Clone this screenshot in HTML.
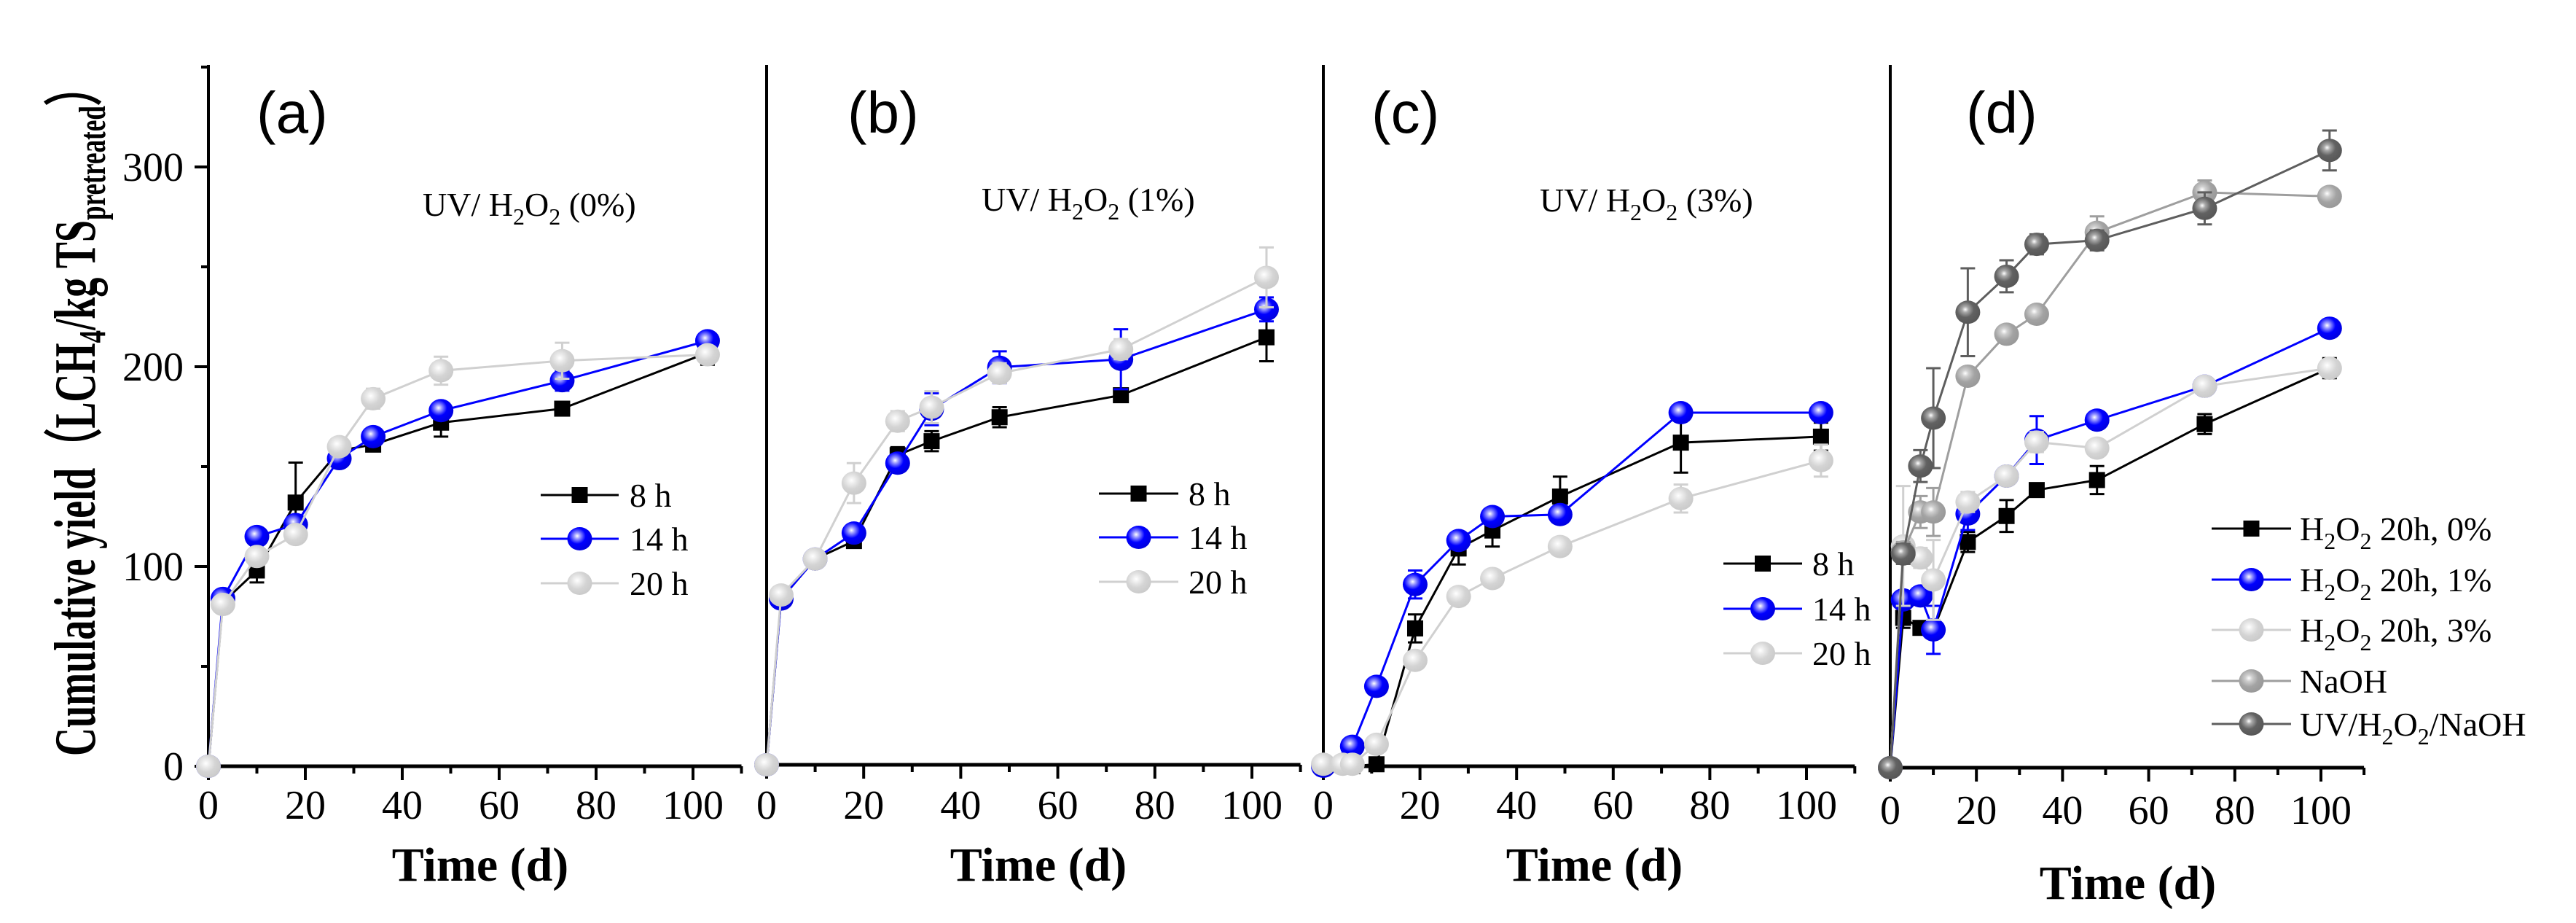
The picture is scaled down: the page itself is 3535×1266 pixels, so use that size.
<!DOCTYPE html>
<html><head><meta charset="utf-8"><title>Cumulative yield</title>
<style>html,body{margin:0;padding:0;background:#fff;}svg{display:block;}</style></head>
<body>
<svg id="chart" xmlns="http://www.w3.org/2000/svg" width="3535" height="1266" viewBox="0 0 3535 1266" font-family="'Liberation Serif', serif">
<defs>
<radialGradient id="g-blue" cx="40%" cy="38%" r="62%"><stop offset="0" stop-color="#ffffff"/><stop offset="0.2" stop-color="#9a9aff"/><stop offset="0.55" stop-color="#0000ff"/><stop offset="1" stop-color="#0000e0"/></radialGradient>
<radialGradient id="g-light" cx="40%" cy="38%" r="62%"><stop offset="0" stop-color="#ffffff"/><stop offset="0.25" stop-color="#ececec"/><stop offset="0.6" stop-color="#d4d4d4"/><stop offset="1" stop-color="#cbcbcb"/></radialGradient>
<radialGradient id="g-mid" cx="40%" cy="38%" r="62%"><stop offset="0" stop-color="#ffffff"/><stop offset="0.22" stop-color="#cfcfcf"/><stop offset="0.6" stop-color="#a3a3a3"/><stop offset="1" stop-color="#999"/></radialGradient>
<radialGradient id="g-dark" cx="40%" cy="38%" r="62%"><stop offset="0" stop-color="#ffffff"/><stop offset="0.2" stop-color="#aaaaaa"/><stop offset="0.55" stop-color="#626262"/><stop offset="1" stop-color="#575757"/></radialGradient>
</defs>
<text transform="translate(130,564) rotate(-90)" text-anchor="middle" font-size="80" font-weight="bold" textLength="946" lengthAdjust="spacingAndGlyphs">Cumulative yield（LCH<tspan font-size="52" dy="14">4</tspan><tspan dy="-14">/kg TS</tspan><tspan font-size="52" dy="14">pretreated</tspan><tspan dy="-14">）</tspan></text>
<g id="plots"></g>
</svg>
<script>
// ---------- data ----------
const daysA = [0, 3, 10, 18, 27, 34, 48, 73, 103];
const a8 = [0, 82, 98, 132, 158, 161, 172, 179, 207];
const a8err = [0, 3, 6, 20, 3, 3, 7, 3, 6];
const a14 = [0, 84, 115, 121, 154, 165, 178, 193, 213];
const a14err = [0, 2, 3, 3, 3, 3, 3, 5, 3];
const a20 = [0, 81, 105, 116, 160, 184, 198, 203, 206];
const a20err = [0, 2, 3, 3, 3, 5, 7, 9, 4];

const daysB = [0, 3, 10, 18, 27, 34, 48, 73, 103];
const b8 = [0, 83, 103, 112, 155, 162, 174, 185, 214];
const b8err = [0, 2, 3, 3, 4, 5, 5, 3, 12];
const b14 = [0, 83, 103, 116, 151, 178, 199, 203, 228];
const b14err = [0, 2, 3, 3, 4, 8, 8, 15, 6];
const b20 = [0, 85, 103, 141, 172, 179, 196, 208, 244];
const b20err = [0, 3, 3, 10, 5, 8, 5, 5, 15];

const daysC = [0, 6, 11, 19, 28, 35, 49, 74, 103];
const c8 = [0, 0, 1, 69, 109, 118, 135, 162, 165];
const c8err = [0, 0, 1, 7, 8, 8, 10, 15, 7];
const c14 = [0, 10, 40, 91, 113, 125, 126, 177, 177];
const c14err = [0, 1, 2, 7, 4, 4, 3, 4, 4];
const daysC20 = [0, 4, 6, 11, 19, 28, 35, 49, 74, 103];
const c20 = [1, 1, 1, 11, 53, 85, 94, 110, 134, 153];
const c20err = [0, 0, 0, 0, 2, 2, 2, 2, 7, 8];

const daysD = [0, 3, 7, 10, 18, 27, 34, 48, 73, 102];
const d0 = [0, 75, 70, 69, 113, 126, 139, 144, 172, 200];
const d0err = [0, 5, 3, 3, 5, 8, 3, 7, 5, 5];
const d1 = [0, 84, 86, 69, 127, 146, 164, 174, 191, 220];
const d1err = [0, 4, 4, 12, 8, 3, 12, 3, 2, 3];
const d3 = [0, 111, 105, 94, 133, 146, 163, 160, 191, 200];
const d3err = [0, 30, 5, 20, 5, 3, 5, 3, 3, 4];
const dNaOH = [0, 108, 128, 128, 196, 217, 227, 268, 288, 286];
const dNaOHerr = [0, 5, 8, 12, 4, 3, 3, 8, 6, 3];
const dUV = [0, 107, 151, 175, 228, 246, 262, 264, 280, 309];
const dUVerr = [0, 5, 8, 25, 22, 8, 5, 5, 8, 10];

const xTicks = [0, 20, 40, 60, 80, 100];
const yTicks = [0, 100, 200, 300];

// ---------- drawing ----------
const NS = 'http://www.w3.org/2000/svg';
const root = document.getElementById('plots');
function mk(tag, attrs, parent) {
  const e = document.createElementNS(NS, tag);
  for (const k in attrs) e.setAttribute(k, attrs[k]);
  (parent || root).appendChild(e);
  return e;
}
const STY = {
  sq: {color: '#000', fill: '#000', shape: 'square'},
  blue: {color: '#0000ff', fill: 'url(#g-blue)', shape: 'ball'},
  light: {color: '#d0d0d0', fill: 'url(#g-light)', shape: 'ball'},
  mid: {color: '#9e9e9e', fill: 'url(#g-mid)', shape: 'ball'},
  dark: {color: '#5e5e5e', fill: 'url(#g-dark)', shape: 'ball'}
};
function marker(g, x, y, st) {
  let m;
  if (st.shape === 'square') {
    m = mk('rect', {x: x - 11, y: y - 11, width: 22, height: 22, fill: '#000'}, g);
  } else {
    m = mk('ellipse', {cx: x, cy: y, rx: 17, ry: 16, fill: st.fill}, g);
  }
  
  
}
function panel(opt) {
  const g = mk('g', {});
  
  
  const X = d => opt.x0 + d * opt.kx;
  const Y = v => opt.y0 - v * 2.74;
  const ya = mk('line', {x1: opt.x0, y1: 89, x2: opt.x0, y2: opt.y0 + 2, stroke: '#000', 'stroke-width': 4}, g);
  
  
  const xa = mk('line', {x1: opt.x0 - 2, y1: opt.y0, x2: X(110), y2: opt.y0, stroke: '#000', 'stroke-width': 5}, g);
  
  
  for (let d = 0; d <= 110; d += 10) {
    const major = d % 20 === 0;
    mk('line', {x1: X(d), y1: opt.y0, x2: X(d), y2: opt.y0 + (major ? 19 : 10), stroke: '#000', 'stroke-width': 4}, g);
  }
  xTicks.forEach(t => {
    const tl = mk('text', {x: X(t), y: opt.tickY, 'text-anchor': 'middle', 'font-size': 56}, g);
    tl.textContent = t;
    
    
  });
  const xt = mk('text', {x: opt.titleX, y: opt.titleY, 'text-anchor': 'middle', 'font-size': 66, 'font-weight': 'bold'}, g);
  xt.textContent = 'Time (d)';
  
  
  if (opt.yTicks) {
    for (let v = 0; v <= 350; v += 50) {
      const major = v % 100 === 0;
      mk('line', {x1: opt.x0 - (major ? 19 : 10), y1: Y(v), x2: opt.x0, y2: Y(v), stroke: '#000', 'stroke-width': 4}, g);
    }
    yTicks.forEach(t => {
      const tl = mk('text', {x: 252, y: Y(t) + 19, 'text-anchor': 'end', 'font-size': 56}, g);
      tl.textContent = t;
      
      
    });
  }
  const pl = mk('text', {x: opt.labX, y: 182, 'font-size': 80, 'font-family': "'Liberation Sans', sans-serif"}, g);
  pl.textContent = '(' + opt.id + ')';
  
  
  opt.series.forEach(s => {
    const st = STY[s.style];
    const sg = mk('g', {}, g);
    
    
    const pts = s.days.map((d, i) => X(d) + ',' + Y(s.vals[i])).join(' ');
    const ln = mk('polyline', {points: pts, fill: 'none', stroke: st.color, 'stroke-width': 3}, sg);
    
    
    s.days.forEach((d, i) => {
      const e = s.err[i];
      if (e > 1) {
        const x = X(d), y1 = Y(s.vals[i] + e), y2 = Y(s.vals[i] - e);
        mk('line', {x1: x, y1: y1, x2: x, y2: y2, stroke: st.color, 'stroke-width': 3}, sg);
        mk('line', {x1: x - 10, y1: y1, x2: x + 10, y2: y1, stroke: st.color, 'stroke-width': 3}, sg);
        mk('line', {x1: x - 10, y1: y2, x2: x + 10, y2: y2, stroke: st.color, 'stroke-width': 3}, sg);
      }
    });
    s.days.forEach((d, i) => marker(sg, X(d), Y(s.vals[i]), st));
  });
  const lg = mk('g', {}, g);
  
  
  opt.series.forEach((s, i) => {
    const st = STY[s.style];
    const y = opt.leg.rows[i];
    const eg = mk('g', {}, lg);
    
    
    mk('line', {x1: opt.leg.x1, y1: y, x2: opt.leg.x2, y2: y, stroke: st.color, 'stroke-width': 3}, eg);
    marker(eg, (opt.leg.x1 + opt.leg.x2) / 2, y, st);
    const t = mk('text', {x: opt.leg.tx, y: y + 16, 'font-size': opt.leg.fs}, eg);
    t.innerHTML = s.label;
  });
  if (opt.note) {
    const n = mk('text', {x: opt.note.x, y: opt.note.y, 'font-size': 46}, g);
    n.innerHTML = opt.note.html;
    
    
  }
}
const sub = s => '<tspan font-size="32" dy="12">' + s + '</tspan><tspan dy="-12">';
const h2o2 = 'H' + sub('2') + 'O</tspan>' + sub('2');
panel({id: 'a', x0: 286, kx: 6.65, y0: 1051, yTicks: true, tickY: 1123, titleX: 659, titleY: 1208, labX: 352,
  note: {x: 580, y: 296, html: 'UV/ ' + h2o2 + ' (0%)</tspan>'},
  leg: {x1: 742, x2: 849, tx: 864, fs: 46, rows: [679, 739, 800]},
  series: [
    {name: '8 h', label: '8 h', style: 'sq', days: daysA, vals: a8, err: a8err},
    {name: '14 h', label: '14 h', style: 'blue', days: daysA, vals: a14, err: a14err},
    {name: '20 h', label: '20 h', style: 'light', days: daysA, vals: a20, err: a20err}]});
panel({id: 'b', x0: 1052, kx: 6.66, y0: 1049, tickY: 1123, titleX: 1425, titleY: 1208, labX: 1163,
  note: {x: 1347, y: 289, html: 'UV/ ' + h2o2 + ' (1%)</tspan>'},
  leg: {x1: 1508, x2: 1617, tx: 1631, fs: 46, rows: [677, 737, 798]},
  series: [
    {name: '8 h', label: '8 h', style: 'sq', days: daysB, vals: b8, err: b8err},
    {name: '14 h', label: '14 h', style: 'blue', days: daysB, vals: b14, err: b14err},
    {name: '20 h', label: '20 h', style: 'light', days: daysB, vals: b20, err: b20err}]});
panel({id: 'c', x0: 1816, kx: 6.63, y0: 1051, tickY: 1123, titleX: 2188, titleY: 1208, labX: 1882,
  note: {x: 2113, y: 290, html: 'UV/ ' + h2o2 + ' (3%)</tspan>'},
  leg: {x1: 2365, x2: 2473, tx: 2487, fs: 46, rows: [773, 835, 896]},
  series: [
    {name: '8 h', label: '8 h', style: 'sq', days: daysC, vals: c8, err: c8err},
    {name: '14 h', label: '14 h', style: 'blue', days: daysC, vals: c14, err: c14err},
    {name: '20 h', label: '20 h', style: 'light', days: daysC20, vals: c20, err: c20err}]});
panel({id: 'd', x0: 2594, kx: 5.91, y0: 1053, tickY: 1130, titleX: 2920, titleY: 1233, labX: 2698,
  leg: {x1: 3035, x2: 3144, tx: 3156, fs: 46, rows: [725, 795, 864, 934, 993]},
  series: [
    {name: 'h2o2 0', label: h2o2 + ' 20h, 0%</tspan>', style: 'sq', days: daysD, vals: d0, err: d0err},
    {name: 'h2o2 1', label: h2o2 + ' 20h, 1%</tspan>', style: 'blue', days: daysD, vals: d1, err: d1err},
    {name: 'h2o2 3', label: h2o2 + ' 20h, 3%</tspan>', style: 'light', days: daysD, vals: d3, err: d3err},
    {name: 'naoh', label: 'NaOH', style: 'mid', days: daysD, vals: dNaOH, err: dNaOHerr},
    {name: 'uv h2o2 naoh', label: 'UV/' + h2o2 + '/NaOH</tspan>', style: 'dark', days: daysD, vals: dUV, err: dUVerr}]});
</script>
</body></html>
